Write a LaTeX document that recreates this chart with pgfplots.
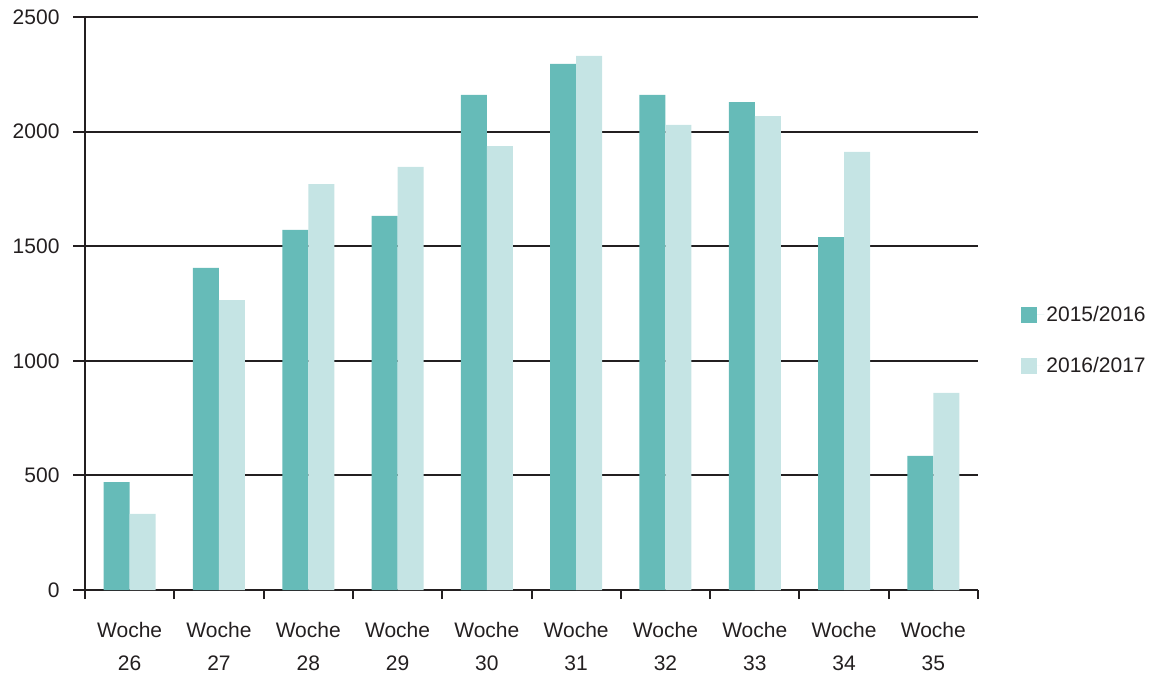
\documentclass[border=0pt]{standalone}
\usepackage{fontspec}
\setmainfont{Liberation Sans}
\usepackage{pgfplots}
\pgfplotsset{compat=1.18}
\definecolor{darkteal}{HTML}{66BBB8}
\definecolor{lightteal}{HTML}{C5E4E4}
\definecolor{ink}{HTML}{231F20}
\begin{document}
\begin{tikzpicture}[x=1pt,y=1pt]
\useasboundingbox (0,0) rectangle (1170,675);
\begin{axis}[
  at={(85pt,85pt)}, anchor=south west,
  scale only axis, width=893pt, height=573pt,
  ybar, bar width=26pt,
  xmin=-0.5, xmax=9.5, ymin=0, ymax=2500,
  axis x line*=bottom, axis y line*=left,
  axis line style={ink, line width=2pt},
  xtick={0,...,9},
  xticklabels={{Woche\\26},{Woche\\27},{Woche\\28},{Woche\\29},{Woche\\30},{Woche\\31},{Woche\\32},{Woche\\33},{Woche\\34},{Woche\\35}},
  xticklabel style={align=center, font=\fontsize{21}{33}\selectfont, text=ink, yshift=-17pt},
  tick style={ink, line width=2pt},
  major x tick style={draw=none},
  minor xtick={-0.5,0.5,...,9.5},
  minor tick style={ink, line width=2pt},
  minor tick length=9pt,
  tick align=outside,
  ytick={0,500,...,2500},
  major y tick style={ink, line width=2pt},
  major tick length=12pt,
  yticklabel style={font=\fontsize{21}{24}\selectfont, text=ink, xshift=-10pt},
  /pgf/number format/assume math mode=true,
  /pgf/number format/1000 sep={},
  ymajorgrids, grid style={ink, line width=2pt},
  major grid style={ink, line width=2pt},
  enlarge y limits=false,
  clip=false,
  legend style={at={(1.045,0.436)}, anchor=west, draw=none, fill=none,
    font=\fontsize{21}{24}\selectfont, text=ink, row sep=30pt,
    legend cell align=left},
  legend image code/.code={\path[#1,draw=none] (0pt,-8pt) rectangle (16pt,8pt); \path (0pt,0pt) -- (23pt,0pt);},
]
\addplot[fill=darkteal, draw=none, bar shift=-13pt] coordinates {
 (0,471) (1,1405) (2,1571) (3,1632) (4,2160) (5,2295) (6,2160) (7,2129) (8,1540) (9,585)};
\addplot[fill=lightteal, draw=none, bar shift=13pt] coordinates {
 (0,332) (1,1265) (2,1771) (3,1846) (4,1937) (5,2330) (6,2029) (7,2068) (8,1911) (9,860)};
\legend{2015/2016,2016/2017}
\end{axis}
\end{tikzpicture}
\end{document}
